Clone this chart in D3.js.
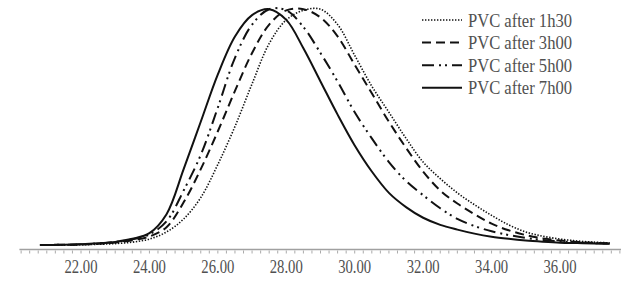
<!DOCTYPE html>
<html>
<head>
<meta charset="utf-8">
<script src="https://cdn.jsdelivr.net/npm/d3@7"></script>
<style>
  body { margin: 0; background: #fff; }
  svg { display: block; }
</style>
</head>
<body>
<div id="chart"></div>
<script>
// elution time grid (min), shared by all four curves
const times = [20.8, 21.5, 22, 22.5, 23, 23.5, 24, 24.5, 25, 25.5, 26, 26.5, 27, 27.5, 28, 28.5,
    29, 29.5, 30, 30.5, 31, 31.5, 32, 32.5, 33, 33.5, 34, 34.5, 35, 35.5, 36, 36.5, 37, 37.45];

// normalised detector response
const pvc1h30 = [0, 0, 0.001, 0.003, 0.006, 0.012, 0.025, 0.055, 0.11, 0.2, 0.34, 0.5, 0.68, 0.85, 0.95, 0.99,
    0.995, 0.93, 0.8, 0.67, 0.56, 0.45, 0.35, 0.28, 0.22, 0.17, 0.125, 0.085, 0.055, 0.037, 0.025, 0.017, 0.012, 0.009];
const pvc3h00 = [0, 0.001, 0.002, 0.005, 0.01, 0.02, 0.036, 0.075, 0.18, 0.32, 0.48, 0.65, 0.81, 0.93, 0.99, 0.995,
    0.96, 0.88, 0.76, 0.64, 0.52, 0.41, 0.31, 0.23, 0.175, 0.13, 0.09, 0.062, 0.042, 0.028, 0.019, 0.013, 0.009, 0.007];
const pvc5h00 = [0, 0.001, 0.003, 0.007, 0.013, 0.024, 0.045, 0.1, 0.23, 0.38, 0.58, 0.79, 0.93, 0.995, 0.99, 0.92,
    0.81, 0.69, 0.56, 0.45, 0.35, 0.27, 0.21, 0.155, 0.11, 0.08, 0.058, 0.042, 0.03, 0.021, 0.015, 0.011, 0.008, 0.006];
const pvc7h00 = [0, 0.001, 0.003, 0.007, 0.013, 0.026, 0.05, 0.13, 0.32, 0.52, 0.72, 0.88, 0.97, 0.995, 0.95, 0.83,
    0.69, 0.55, 0.42, 0.31, 0.22, 0.16, 0.115, 0.085, 0.065, 0.048, 0.035, 0.026, 0.019, 0.014, 0.01, 0.008, 0.006, 0.005];

const seriesNames = ['PVC after 1h30', 'PVC after 3h00', 'PVC after 5h00', 'PVC after 7h00'];
const tickValues = [22, 24, 26, 28, 30, 32, 34, 36];

var svgwidth = 621;
var svgheight = 282;

var svg = d3.select('#chart')
    .append('svg')
    .attr('width', svgwidth)
    .attr('height', svgheight);

// 22.00 sits at x=81, 36.00 at x=560
var xscale = d3.scaleLinear()
    .domain([22, 36])
    .range([81, 560]);

var yscale = d3.scaleLinear()
    .domain([0, 1])
    .range([245, 8]);

var axisY = 249.5;
var serif = '"Liberation Serif", "Times New Roman", serif';

// x axis: grey line, small ticks every 0.25, labels on even values
var axisG = svg.append('g')
    .attr('transform', 'translate(0,' + axisY + ')');

axisG.append('line')
    .attr('x1', xscale(20.2))
    .attr('x2', xscale(37.8))
    .attr('stroke', '#a0a0a0')
    .attr('stroke-width', 1.6);

var minorTicks = d3.range(20.25, 37.8, 0.25);
axisG.selectAll('.minor')
    .data(minorTicks)
    .enter()
    .append('line')
    .attr('class', 'minor')
    .attr('x1', d => xscale(d))
    .attr('x2', d => xscale(d))
    .attr('y1', 1)
    .attr('y2', 4)
    .attr('stroke', '#aaa')
    .attr('stroke-width', 1);

// the labels in the picture are tall and narrow
axisG.selectAll('.lbl')
    .data(tickValues)
    .enter()
    .append('text')
    .attr('class', 'lbl')
    .attr('x', d => xscale(d) - 16.5)
    .attr('y', 23)
    .attr('textLength', 33)
    .attr('lengthAdjust', 'spacingAndGlyphs')
    .style('font-family', serif)
    .style('font-size', '18px')
    .attr('fill', '#505050')
    .text(d => d.toFixed(2));

// axis title, cut by the bottom edge as in the source
svg.append('text')
    .attr('x', xscale(28.55))
    .attr('y', 293)
    .attr('text-anchor', 'middle')
    .style('font-family', serif)
    .style('font-size', '17px')
    .attr('fill', '#505050')
    .text('Min');

var dashes = ['1.4,1.6', '9,5', '12,5,2,4,2,5', null];
var widths = [1.6, 2, 2, 2];
var allSeries = [pvc1h30, pvc3h00, pvc5h00, pvc7h00];

var line = d3.line()
    .x(d => xscale(d.t))
    .y(d => yscale(d.v))
    .curve(d3.curveCatmullRom.alpha(0.5));

allSeries.forEach(function (vals, i) {
    var pts = times.map((t, k) => ({ t: t, v: vals[k] }));
    svg.append('path')
        .datum(pts)
        .attr('d', line)
        .attr('fill', 'none')
        .attr('stroke', '#111')
        .attr('stroke-width', widths[i])
        .attr('stroke-dasharray', dashes[i]);
});

// legend
var legend = svg.append('g');
seriesNames.forEach(function (name, i) {
    var ly = 20 + i * 22.6;
    legend.append('line')
        .attr('x1', 422)
        .attr('x2', 462)
        .attr('y1', ly)
        .attr('y2', ly)
        .attr('stroke', '#111')
        .attr('stroke-width', widths[i])
        .attr('stroke-dasharray', dashes[i]);
    legend.append('text')
        .attr('x', 468)
        .attr('y', ly + 6.5)
        .attr('textLength', 104)
        .attr('lengthAdjust', 'spacingAndGlyphs')
        .style('font-family', serif)
        .style('font-size', '18px')
        .attr('fill', '#505050')
        .text(name);
});
</script>
</body>
</html>
